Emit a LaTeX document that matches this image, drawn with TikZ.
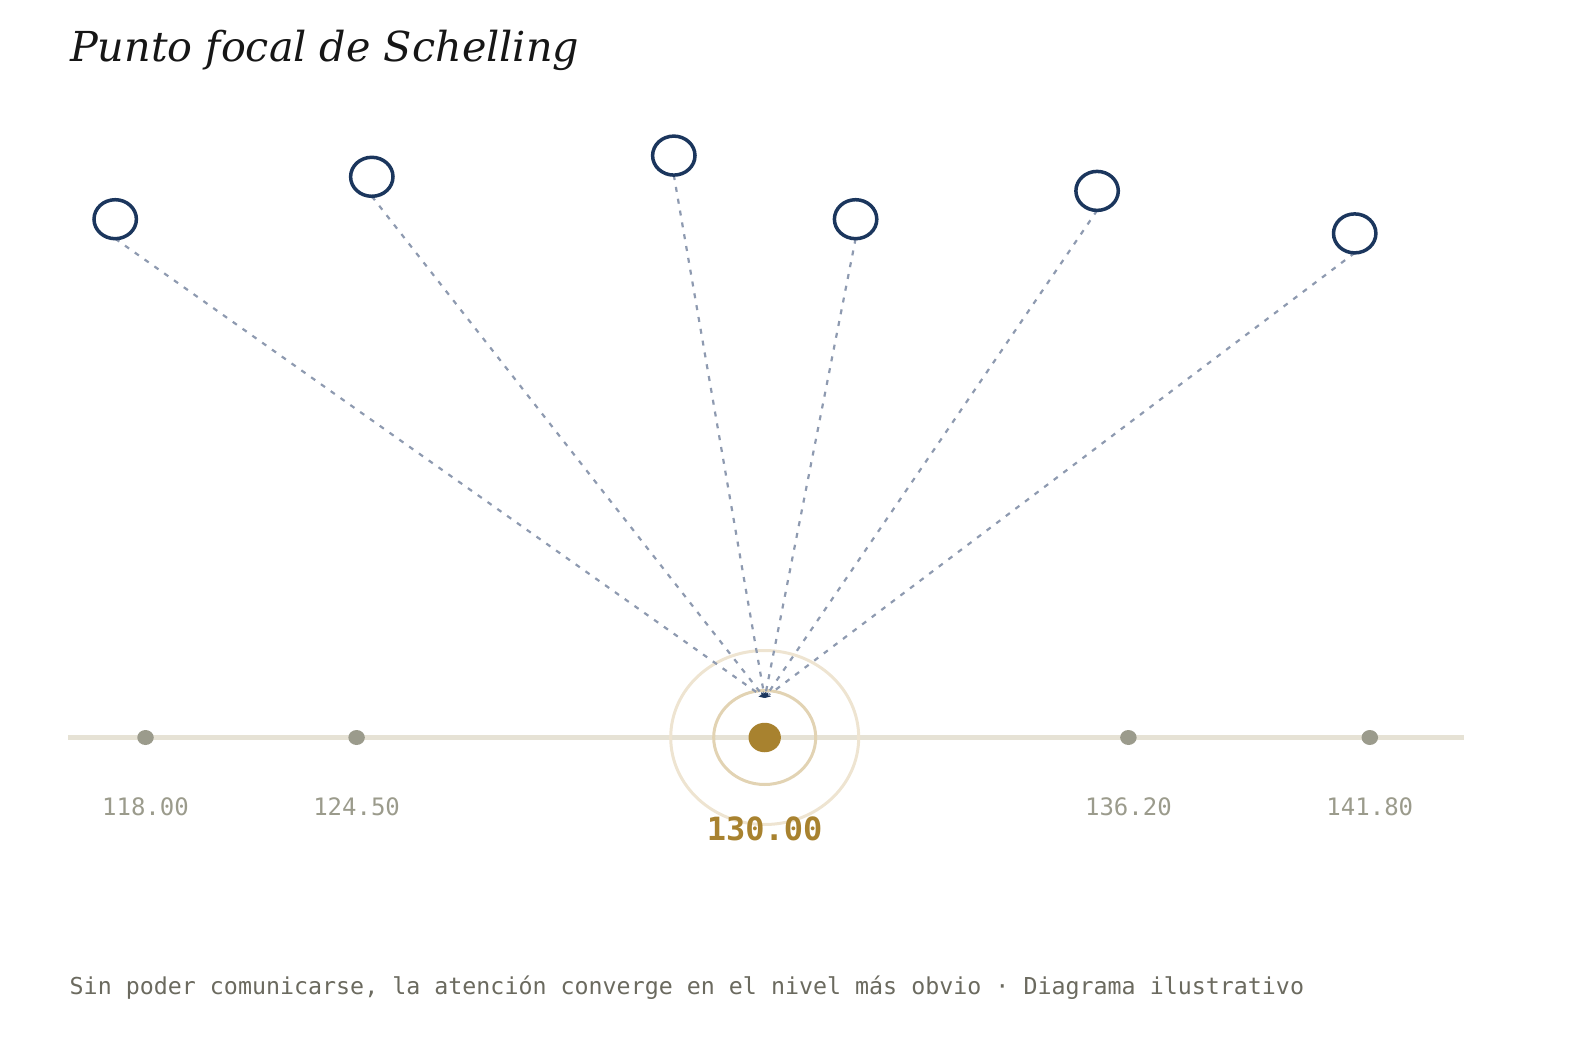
\documentclass[tikz,border=0pt]{standalone}
\usepackage{fontspec}
\setmainfont{DejaVu Serif}
\newfontfamily\monofont{DejaVu Sans Mono}
\usetikzlibrary{arrows.meta,shapes.geometric}
\definecolor{titlecol}{HTML}{161616}
\definecolor{navy}{HTML}{1B365D}
\definecolor{dashcol}{HTML}{8E9AB0}
\definecolor{axiscol}{HTML}{E6E2D5}
\definecolor{dotgray}{HTML}{9B9B8C}
\definecolor{gold}{HTML}{A8822F}
\definecolor{ringin}{HTML}{E2D3B3}
\definecolor{ringout}{HTML}{EEE4D1}
\definecolor{footcol}{HTML}{6B6A5F}
\tikzset{
  agent/.style={ellipse,draw=navy,line width=3.5pt,minimum width=42.4pt,minimum height=39pt,inner sep=0pt,fill=white},
  pick/.style={dashcol,line width=2.2pt,dash pattern=on 5pt off 7pt,-{Stealth[length=6pt,width=5pt,color=navy]}},
  tick/.style={ellipse,fill=dotgray,minimum width=16.5pt,minimum height=15pt,inner sep=0pt},
  ticklabel/.style={font=\monofont\fontsize{24}{28}\selectfont,text=dotgray,anchor=base},
}
\begin{document}
\begin{tikzpicture}[x=1pt,y=-1pt]
\useasboundingbox (0,0) rectangle (1584,1056);
% title
\node[anchor=base west,inner sep=0pt,text=titlecol,font=\itshape\fontsize{41.3}{48}\selectfont] (title) at (70,62) {Punto focal de Schelling};
% axis
\draw[axiscol,line width=4.5pt] (68,737.5) coordinate (axl) -- (1464,737.5) coordinate (axr);
% rings
\draw[ringout,line width=3pt] (764.7,737.5) ellipse [x radius=94pt,y radius=87pt];
\draw[ringin,line width=3pt] (764.7,737.5) ellipse [x radius=51pt,y radius=47pt];
% ticks
\node[tick] (t1) at (145.5,737.5) {};
\node[tick] (t2) at (356.6,737.5) {};
\node[tick] (t4) at (1128.4,737.5) {};
\node[tick] (t5) at (1369.8,737.5) {};
\node[ellipse,fill=gold,minimum width=32.4pt,minimum height=29.5pt,inner sep=0pt] (focal) at (764.7,737.5) {};
% labels
\node[ticklabel] (l1) at (145.5,815) {118.00};
\node[ticklabel] (l2) at (356.6,815) {124.50};
\node[ticklabel] (l4) at (1128.4,815) {136.20};
\node[ticklabel] (l5) at (1369.8,815) {141.80};
\node[anchor=base,text=gold,font=\monofont\bfseries\fontsize{32}{36}\selectfont] (lf) at (764.7,840) {130.00};
% agents
\coordinate (aim) at (764.7,698);
\path (115.2,219.2) coordinate (c1) (371.8,176.8) coordinate (c2) (673.8,155.6) coordinate (c3)
      (855.6,219.2) coordinate (c4) (1097.1,190.9) coordinate (c5) (1354.7,233.4) coordinate (c6);
\foreach \i in {1,...,6}{\draw[pick] ([yshift=-19.5pt]c\i) -- (aim);}
\foreach \i in {1,...,6}{\node[agent] (a\i) at (c\i) {};}
% footer
\node[anchor=base west,inner sep=0pt,text=footcol,font=\monofont\fontsize{23.3}{28}\selectfont] (foot) at (69.5,994) {Sin poder comunicarse, la atención converge en el nivel más obvio · Diagrama ilustrativo};
\end{tikzpicture}
\end{document}
